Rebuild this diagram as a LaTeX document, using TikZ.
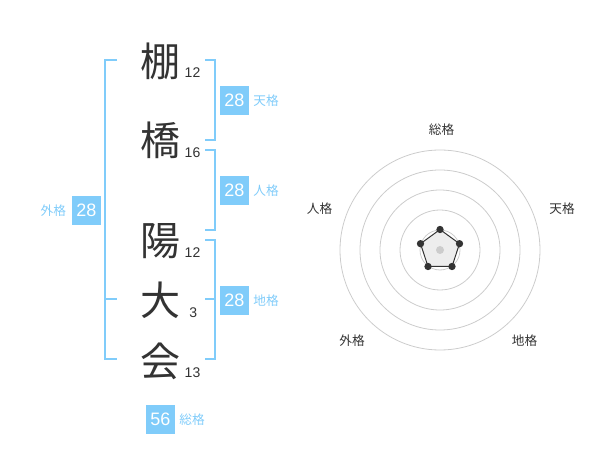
\documentclass[tikz,border=0pt]{standalone}
\usepackage{fontspec}
\setmainfont{Liberation Sans}
\newfontfamily\jp{Noto Sans CJK JP}
\definecolor{kblue}{HTML}{80CCFA}
\definecolor{ktext}{HTML}{333333}
\definecolor{kgrid}{HTML}{CCCCCC}
\tikzset{
  kanji/.style={inner sep=0pt, text=ktext, font=\jp\fontsize{30}{30}\selectfont},
  strokenum/.style={inner sep=0pt, text=ktext, font=\fontsize{10.5}{10.5}\selectfont},
  gbox/.style={fill=kblue, text=white, inner sep=0pt, minimum width=21.5pt, minimum height=21.5pt, font=\fontsize{13.5}{13.5}\selectfont},
  glabel/.style={inner sep=0pt, text=kblue, font=\jp\fontsize{9.5}{9.5}\selectfont},
  rlabel/.style={inner sep=0pt, text=ktext, font=\jp\fontsize{9.5}{9.5}\selectfont},
  bracket/.style={draw=kblue, line width=1.5pt},
  ring/.style={draw=kgrid, line width=0.6pt},
  dot/.style={circle, fill=ktext, inner sep=0pt, minimum size=5.5pt},
}
\begin{document}
\begin{tikzpicture}[x=0.75pt, y=-0.75pt]
\useasboundingbox (0,0) rectangle (600,470);
% kanji
\node[kanji] (k1) at (160,61) {棚};
\node[kanji] (k2) at (160,140) {橋};
\node[kanji] (k3) at (160,241) {陽};
\node[kanji] (k4) at (160,300) {大};
\node[kanji] (k5) at (160,361) {会};
% stroke numbers
\node[strokenum] (n1) at (192.5,73) {12};
\node[strokenum] (n2) at (192.5,153) {16};
\node[strokenum] (n3) at (192.5,253) {12};
\node[strokenum] (n4) at (193.3,313) {3};
\node[strokenum] (n5) at (192.5,373) {13};
% left bracket (gaikaku)
\coordinate (L1) at (117,60);
\coordinate (L2) at (105,60);
\coordinate (L3) at (105,359);
\coordinate (L4) at (117,359);
\coordinate (Lm1) at (105,299);
\coordinate (Lm2) at (117,299);
\draw[bracket] (L1) -- (L2) -- (L3) -- (L4);
\draw[bracket] (Lm1) -- (Lm2);
% right brackets
\coordinate (T1) at (205,60);
\coordinate (T2) at (214.5,60);
\coordinate (T3) at (214.5,140);
\coordinate (T4) at (205,140);
\draw[bracket] (T1) -- (T2) -- (T3) -- (T4);
\coordinate (J1) at (205,150);
\coordinate (J2) at (214.5,150);
\coordinate (J3) at (214.5,230);
\coordinate (J4) at (205,230);
\draw[bracket] (J1) -- (J2) -- (J3) -- (J4);
\coordinate (C1) at (205,240);
\coordinate (C2) at (214.5,240);
\coordinate (C3) at (214.5,359);
\coordinate (C4) at (205,359);
\coordinate (Cm) at (205,299);
\coordinate (Cm2) at (214.5,299);
\draw[bracket] (C1) -- (C2) -- (C3) -- (C4);
\draw[bracket] (Cm) -- (Cm2);
% boxes
\node[gbox] (bt) at (234.3,100.3) {28};
\node[glabel] (lt) at (266,100.5) {天格};
\node[gbox] (bj) at (234.3,190.3) {28};
\node[glabel] (lj) at (266,190.5) {人格};
\node[gbox] (bc) at (234.3,300.3) {28};
\node[glabel] (lc) at (266,300.5) {地格};
\node[gbox] (bg) at (86.3,210.3) {28};
\node[glabel] (lg) at (53.3,210.5) {外格};
\node[gbox] (bs) at (160.3,419.3) {56};
\node[glabel] (ls) at (192,419.5) {総格};
% radar chart
\coordinate (O) at (440,250);
\foreach \r in {20,40,60,80,100} {\draw[ring] (O) circle[radius=\r];}
\coordinate (p1) at (440,229.5);
\coordinate (p2) at (459.5,243.7);
\coordinate (p3) at (452,266.5);
\coordinate (p4) at (428,266.5);
\coordinate (p5) at (420.5,243.7);
\fill[fill=black!7] (p1) -- (p2) -- (p3) -- (p4) -- (p5) -- cycle;
\draw[draw=ktext, line width=0.75pt] (p1) -- (p2) -- (p3) -- (p4) -- (p5) -- cycle;
\node[circle, fill=kgrid, inner sep=0pt, minimum size=6pt] (ctr) at (O) {};
\foreach \p in {p1,p2,p3,p4,p5} {\node[dot] (d\p) at (\p) {};}
\node[rlabel] (rs) at (441.5,130) {総格};
\node[rlabel] (rt) at (562,208.5) {天格};
\node[rlabel] (rj) at (319.5,208.5) {人格};
\node[rlabel] (rg) at (352,341) {外格};
\node[rlabel] (rc) at (524.5,341) {地格};
\end{tikzpicture}
\end{document}
